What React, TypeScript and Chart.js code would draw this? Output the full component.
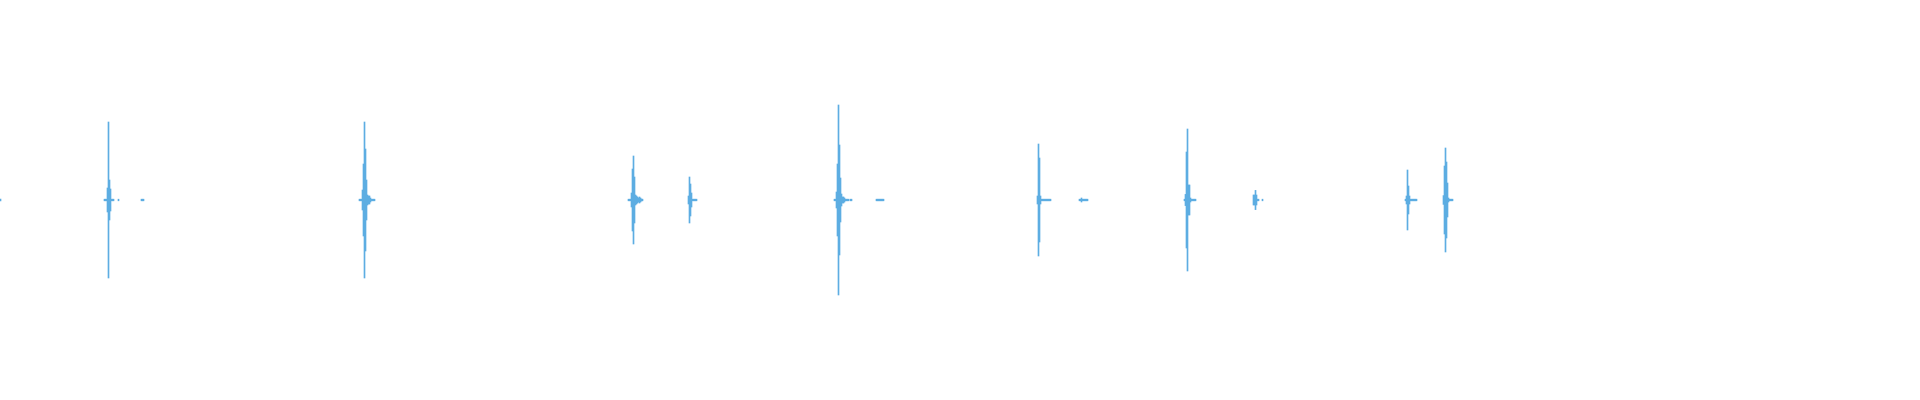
import { Chart, registerables } from "chart.js";
import * as React from "react";

Chart.register(...registerables);

// 采样列数（每列一个像素宽）
const sampleCount = 1920;

// 每段声音的起始列
const burstStarts = [0, 104, 118, 141, 359, 628, 688, 834, 850, 876, 1037, 1079, 1184, 1253, 1262, 1405, 1443];

// 每段声音的振幅（满量程 = 1）
const burstAmps = [
  [0.004],
  [0.004, 0.004, 0.004, 0.06, 0.39, 0.1, 0.055, 0.004, 0.004, 0.004],
  [0.004],
  [0.004, 0.004, 0.004],
  [0.004, 0.004, 0.004, 0.05, 0.18, 0.39, 0.255, 0.1, 0.025, 0.02, 0.02, 0.01, 0.004, 0.004, 0.004, 0.004],
  [0.004, 0.004, 0.004, 0.035, 0.155, 0.22, 0.115, 0.025, 0.02, 0.015, 0.01, 0.015, 0.01, 0.005, 0.004],
  [0.02, 0.115, 0.08, 0.035, 0.004, 0.004, 0.004, 0.004, 0.004],
  [0.004, 0.004, 0.04, 0.18, 0.475, 0.275, 0.11, 0.03, 0.015, 0.015, 0.01, 0.004, 0.004, 0.004, 0.004],
  [0.004, 0.004],
  [0.004, 0.004, 0.004, 0.004, 0.004, 0.004, 0.004, 0.004],
  [0.02, 0.28, 0.21, 0.02, 0.004, 0.004, 0.004, 0.004, 0.004, 0.004, 0.004, 0.004, 0.004, 0.004],
  [0.004, 0.004, 0.01, 0.004, 0.004, 0.004, 0.004, 0.004, 0.004],
  [0.004, 0.028, 0.24, 0.355, 0.075, 0.075, 0.01, 0.004, 0.004, 0.004, 0.004, 0.004],
  [0.025, 0.025, 0.048, 0.025, 0.004, 0.004],
  [0.004],
  [0.004, 0.02, 0.15, 0.07, 0.02, 0.004, 0.004, 0.004, 0.004, 0.004, 0.004, 0.004],
  [0.022, 0.17, 0.26, 0.19, 0.085, 0.01, 0.004, 0.004, 0.004, 0.004],
];

const waveColor = "rgb(93, 173, 226)";

export default function App() {
  const chartRef = React.useRef<HTMLCanvasElement>(null);

  React.useEffect(() => {
    document.body.style.margin = "0";
    if (!chartRef.current) return;

    const labels = Array.from({ length: sampleCount }, (_, i) => i);
    const values: ([number, number] | null)[] = labels.map(() => null);
    burstStarts.forEach((start, b) => {
      burstAmps[b].forEach((a, k) => {
        values[start + k] = [-a, a];
      });
    });

    const chart = new Chart(chartRef.current, {
      type: "bar",
      data: {
        labels,
        datasets: [
          {
            data: values as any,
            backgroundColor: waveColor,
            borderWidth: 0,
            barPercentage: 1,
            categoryPercentage: 1,
          },
        ],
      },
      options: {
        animation: false,
        responsive: true,
        maintainAspectRatio: false,
        devicePixelRatio: 1,
        layout: { padding: 0 },
        plugins: {
          legend: { display: false },
          tooltip: { enabled: false },
        },
        scales: {
          x: { display: false },
          y: { display: false, min: -1, max: 1 },
        },
      },
    });

    return () => {
      chart.destroy();
    };
  }, []);

  return (
    <div style={{ width: 1920, height: 400, position: "relative" }}>
      <canvas ref={chartRef} />
    </div>
  );
}
